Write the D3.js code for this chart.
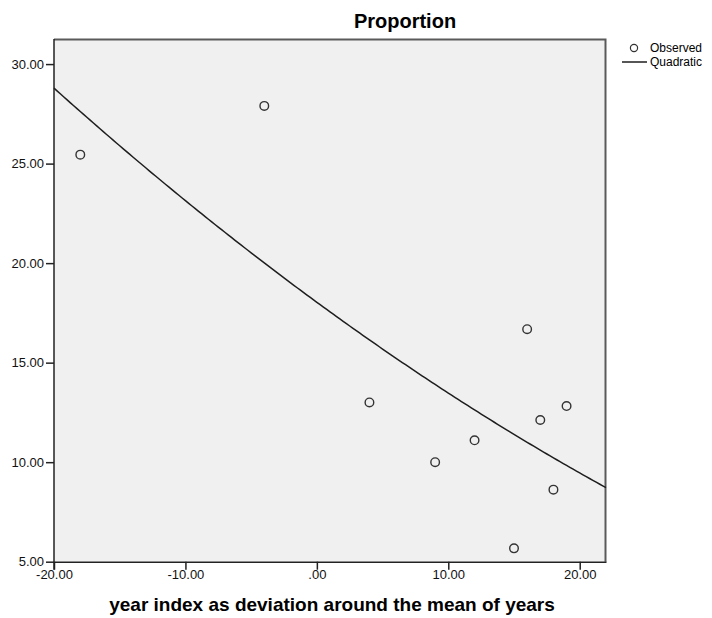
<!DOCTYPE html>
<html>
<head>
<meta charset="utf-8">
<script src="https://cdn.jsdelivr.net/npm/d3@7/dist/d3.min.js"></script>
<style>
  body { margin: 0; background: #fff; }
  svg { font-family: "Liberation Sans", Arial, sans-serif; }
</style>
</head>
<body>
<div id="chart"></div>
<script>
const yearIndex = [-18, -4, 4, 9, 12, 15, 16, 17, 18, 19];
const proportion = [25.45, 27.9, 13.0, 10.0, 11.1, 5.67, 16.68, 12.12, 8.62, 12.82];
const xTicks = [-20, -10, 0, 10, 20];
const yTicks = [5, 10, 15, 20, 25, 30];

const width = 712, height = 618;
const margin = { top: 39, right: 106, bottom: 56, left: 54 };

const svg = d3.select("#chart").append("svg")
    .attr("width", width)
    .attr("height", height);

const x = d3.scaleLinear().domain([-20, 22]).range([margin.left, width - margin.right]);
const y = d3.scaleLinear().domain([5, 31.26]).range([height - margin.bottom - 0.3, margin.top]);

const fmt = v => d3.format(".2f")(v).replace("\u2212", "-").replace(/^0\./, ".").replace(/^-0\./, "-.");

// quadratic least squares fit, same as the curve estimation in the source
function quadFit(xs, ys) {
    const s = k => d3.sum(xs, v => Math.pow(v, k));
    const t = k => d3.sum(xs, (v, i) => Math.pow(v, k) * ys[i]);
    const A = [[xs.length, s(1), s(2)], [s(1), s(2), s(3)], [s(2), s(3), s(4)]];
    const B = [t(0), t(1), t(2)];
    // gaussian elimination
    for (let i = 0; i < 3; i++) {
        for (let j = i + 1; j < 3; j++) {
            const f = A[j][i] / A[i][i];
            for (let k = i; k < 3; k++) A[j][k] -= f * A[i][k];
            B[j] -= f * B[i];
        }
    }
    const c = [0, 0, 0];
    for (let i = 2; i >= 0; i--) {
        let v = B[i];
        for (let k = i + 1; k < 3; k++) v -= A[i][k] * c[k];
        c[i] = v / A[i][i];
    }
    return c;
}
const coef = quadFit(yearIndex, proportion);
const fitted = d3.range(-20, 22.01, 0.25).map(v => ({ x: v, y: coef[0] + coef[1] * v + coef[2] * v * v }));

const x0 = margin.left, x1 = width - margin.right;
const y0 = height - margin.bottom - 0.3, y1 = margin.top;

// plot background
svg.append("rect")
    .attr("x", x0).attr("y", y1)
    .attr("width", x1 - x0).attr("height", y0 - y1)
    .attr("fill", "#f0f0f0");

// top and right frame
svg.append("path")
    .attr("d", `M${x0},${y1 + 0.5}H${x1 - 0.5}V${y0}`)
    .attr("fill", "none")
    .attr("stroke", "#5a5a5a")
    .attr("stroke-width", 2);

const line = d3.line().x(d => x(d.x)).y(d => y(d.y));
svg.append("path")
    .datum(fitted)
    .attr("d", line)
    .attr("fill", "none")
    .attr("stroke", "#1e1e1e")
    .attr("stroke-width", 1.5);

svg.append("g").selectAll("circle")
    .data(yearIndex.map((v, i) => ({ x: v, y: proportion[i] })))
    .join("circle")
    .attr("cx", d => x(d.x))
    .attr("cy", d => y(d.y))
    .attr("r", 4.3)
    .attr("fill", "none")
    .attr("stroke", "#333")
    .attr("stroke-width", 1.4);

// axes
const xAxis = svg.append("g")
    .attr("transform", `translate(0,${y0})`)
    .call(d3.axisBottom(x).tickValues(xTicks).tickFormat(fmt).tickSize(8).tickSizeOuter(0));
const yAxis = svg.append("g")
    .attr("transform", `translate(${x0},0)`)
    .call(d3.axisLeft(y).tickValues(yTicks).tickFormat(fmt).tickSize(8).tickSizeOuter(0).tickPadding(2));

[xAxis, yAxis].forEach(g => {
    g.select(".domain").attr("stroke", "#222").attr("stroke-width", 1.5);
    g.selectAll(".tick line").attr("stroke", "#222").attr("stroke-width", 1.5);
    g.selectAll(".tick text")
        .attr("fill", "#111")
        .style("font-size", "13px")
        .style("font-family", "'Liberation Sans', Arial, sans-serif");
});
yAxis.select(".domain").attr("d", `M0,${y0 + 8}V${y1}`);
xAxis.selectAll(".tick text").attr("dy", "0.75em").attr("y", 8);

// title
svg.append("text")
    .attr("x", 405).attr("y", 28)
    .attr("text-anchor", "middle")
    .style("font-size", "20px")
    .style("font-weight", "bold")
    .text("Proportion");

svg.append("text")
    .attr("x", 332).attr("y", 611)
    .attr("text-anchor", "middle")
    .style("font-size", "19px")
    .style("font-weight", "bold")
    .text("year index as deviation around the mean of years");

// legend
const legend = svg.append("g").style("font-size", "12px");
legend.append("circle")
    .attr("cx", 634).attr("cy", 48).attr("r", 3.6)
    .attr("fill", "none").attr("stroke", "#333").attr("stroke-width", 1.2);
legend.append("text").attr("x", 650).attr("y", 52).text("Observed");
legend.append("line")
    .attr("x1", 622).attr("x2", 647).attr("y1", 62).attr("y2", 62)
    .attr("stroke", "#1e1e1e").attr("stroke-width", 1.5);
legend.append("text").attr("x", 650).attr("y", 66).text("Quadratic");
</script>
</body>
</html>
